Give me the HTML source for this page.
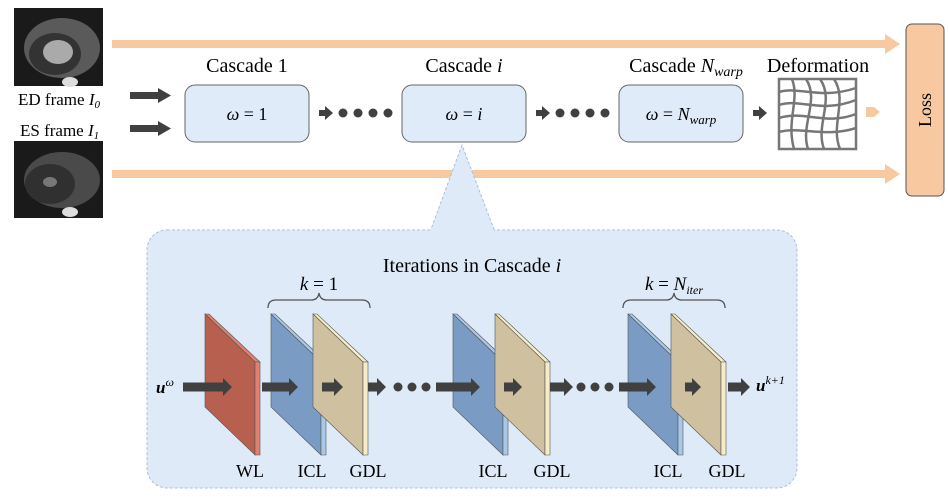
<!DOCTYPE html>
<html><head><meta charset="utf-8"><style>
body{margin:0;background:#fff}
svg{display:block;font-family:"Liberation Serif",serif}
</style></head><body>
<svg width="948" height="497" viewBox="0 0 948 497">
<g>
<rect x="14" y="8" width="89" height="78" fill="#1a1a1a"/>
<ellipse cx="62" cy="48" rx="38" ry="30" fill="#5a5a5a"/>
<ellipse cx="55" cy="54" rx="26" ry="21" fill="#333"/>
<ellipse cx="58" cy="52" rx="15" ry="12" fill="#aaa"/>
<ellipse cx="70" cy="82" rx="8" ry="5" fill="#ddd"/>
</g>
<g>
<rect x="14" y="141" width="89" height="77" fill="#1a1a1a"/>
<ellipse cx="62" cy="180" rx="38" ry="28" fill="#4a4a4a"/>
<ellipse cx="50" cy="184" rx="25" ry="20" fill="#303030"/>
<ellipse cx="50" cy="182" rx="7" ry="5" fill="#777"/>
<ellipse cx="70" cy="212" rx="8" ry="5" fill="#ddd"/>
</g>
<text x="18" y="105" font-size="17">ED frame <tspan font-style="italic">I</tspan><tspan font-style="italic" font-size="11" dy="3">0</tspan></text>
<text x="20" y="136" font-size="17">ES frame <tspan font-style="italic">I</tspan><tspan font-style="italic" font-size="11" dy="3">1</tspan></text>

<g fill="#f8c9a0">
<rect x="112" y="40" width="776" height="8"/><polygon points="885,34 900,44 885,54"/>
<rect x="112" y="170" width="776" height="8"/><polygon points="885,164 900,174 885,184"/>
<polygon points="866,107 874,107 880,112 874,117 866,117"/>
</g>

<g fill="#404040">
<rect x="130" y="92" width="30" height="7"/><polygon points="158,88 171,95.5 158,103"/>
<rect x="130" y="125" width="30" height="7"/><polygon points="158,121 171,128.5 158,136"/>
</g>

<g font-size="20">
<text x="247" y="72" text-anchor="middle">Cascade 1</text>
<rect x="185" y="85" width="124" height="57" rx="10" fill="#dfebf8" stroke="#666" stroke-width="1"/>
<text x="247" y="120" text-anchor="middle" font-size="18"><tspan font-style="italic">ω</tspan> = 1</text>
<text x="464" y="72" text-anchor="middle">Cascade <tspan font-style="italic">i</tspan></text>
<rect x="402" y="85" width="124" height="57" rx="10" fill="#dfebf8" stroke="#666" stroke-width="1"/>
<text x="464" y="120" text-anchor="middle" font-size="18"><tspan font-style="italic">ω</tspan> = <tspan font-style="italic">i</tspan></text>
<text x="686" y="72" text-anchor="middle">Cascade <tspan font-style="italic">N</tspan><tspan font-style="italic" font-size="14" dy="4">warp</tspan></text>
<rect x="619" y="85" width="124" height="57" rx="10" fill="#dfebf8" stroke="#666" stroke-width="1"/>
<text x="681" y="120" text-anchor="middle" font-size="18"><tspan font-style="italic">ω</tspan> = <tspan font-style="italic">N</tspan><tspan font-style="italic" font-size="13" dy="4">warp</tspan></text>
<text x="818" y="72" text-anchor="middle">Deformation</text>
</g>
<g fill="#404040">
<rect x="319" y="110" width="8" height="6"/><polygon points="325,106 333,113 325,120"/>
<circle cx="343" cy="113" r="4.5"/><circle cx="358" cy="113" r="4.5"/><circle cx="373" cy="113" r="4.5"/><circle cx="388" cy="113" r="4.5"/>
<rect x="536" y="110" width="8" height="6"/><polygon points="542,106 550,113 542,120"/>
<circle cx="560" cy="113" r="4.5"/><circle cx="575" cy="113" r="4.5"/><circle cx="590" cy="113" r="4.5"/><circle cx="605" cy="113" r="4.5"/>
<rect x="753" y="110" width="8" height="6"/><polygon points="759,106 767,113 759,120"/>
</g>
<g fill="none" stroke="#777" stroke-width="2.5">
<rect x="779" y="79" width="77" height="70"/>
<path d="M779,92 C800,86 820,100 856,88"/>
<path d="M779,105 C800,98 820,114 856,100"/>
<path d="M779,118 C805,110 825,126 856,114"/>
<path d="M779,132 C800,126 825,138 856,128"/>
<path d="M792,79 C800,100 786,120 794,149"/>
<path d="M806,79 C820,100 800,125 808,149"/>
<path d="M820,79 C835,100 815,125 824,149"/>
<path d="M834,79 C848,100 830,125 840,149"/>
</g>
<rect x="906" y="24" width="38" height="172" rx="6" fill="#f8c9a0" stroke="#555" stroke-width="1"/>
<text transform="translate(931,110) rotate(-90)" text-anchor="middle" font-size="18">Loss</text>

<path d="M462,145 L430,232 L495,232 Z" fill="#deeaf7" stroke="#a9c0d8" stroke-dasharray="3,2"/>
<rect x="147" y="230" width="650" height="258" rx="20" fill="#deeaf7" stroke="#a9c0d8" stroke-dasharray="3,2"/>
<path d="M431,231 L494,231" stroke="#deeaf7" stroke-width="3"/>
<text x="472" y="272" text-anchor="middle" font-size="20">Iterations in Cascade <tspan font-style="italic">i</tspan></text>

<g fill="none" stroke="#555" stroke-width="1.3">
<path d="M268,308 Q268,300 276,300 L311,300 Q318,300 319,293 Q320,300 327,300 L362,300 Q370,300 370,308"/>
<path d="M623,308 Q623,300 631,300 L666,300 Q673,300 674,293 Q675,300 682,300 L717,300 Q725,300 725,308"/>
</g>
<text x="319" y="290" text-anchor="middle" font-size="19"><tspan font-style="italic">k</tspan> = 1</text>
<text x="674" y="290" text-anchor="middle" font-size="19"><tspan font-style="italic">k</tspan> = <tspan font-style="italic">N</tspan><tspan font-style="italic" font-size="12" dy="4">iter</tspan></text>

<g id="slabs"></g>
<g font-size="18" text-anchor="middle">
<text x="250" y="477">WL</text><text x="312" y="477">ICL</text><text x="368" y="477">GDL</text>
<text x="493" y="477">ICL</text><text x="552" y="477">GDL</text>
<text x="668" y="477">ICL</text><text x="727" y="477">GDL</text>
</g>
<text x="156" y="393" font-size="17" font-weight="bold" font-style="italic">u<tspan font-weight="normal" font-size="12" dy="-7">ω</tspan></text>
<text x="756" y="391" font-size="17" font-weight="bold" font-style="italic">u<tspan font-weight="normal" font-size="12" dy="-7">k+1</tspan></text>
</svg>
<script>
const NS='http://www.w3.org/2000/svg';
const g=document.getElementById('slabs');
const slabs=[['wl',205,'#b8604f','#e0806e'],['icl-1',271,'#7a9cc4','#a9c8e8'],['gdl-1',313,'#cfc1a0','#f7ecc4'],
['icl-2',453,'#7a9cc4','#a9c8e8'],['gdl-2',495,'#cfc1a0','#f7ecc4'],['icl-3',628,'#7a9cc4','#a9c8e8'],['gdl-3',671,'#cfc1a0','#f7ecc4']];
function poly(pts,fill){const p=document.createElementNS(NS,'polygon');p.setAttribute('points',pts);p.setAttribute('fill',fill);p.setAttribute('stroke','#555');p.setAttribute('stroke-width','0.6');return p;}
function arrow(x1,x2){const y=387;const p=document.createElementNS(NS,'polygon');
p.setAttribute('points',`${x1},${y-4.5} ${x2-9},${y-4.5} ${x2-9},${y-9} ${x2},${y} ${x2-9},${y+9} ${x2-9},${y+4.5} ${x1},${y+4.5}`);p.setAttribute('fill','#404040');


g.appendChild(p);}
function dots(x,n){for(let i=0;i<n;i++){const c=document.createElementNS(NS,'circle');c.setAttribute('cx',x+i*14);c.setAttribute('cy',387);c.setAttribute('r',4.5);c.setAttribute('fill','#404040');


g.appendChild(c);}}
slabs.forEach((s,i)=>{const x=s[1];const sg=document.createElementNS(NS,'g');


sg.appendChild(poly(`${x},314 ${x+4},314 ${x+55},362 ${x+50},362`,s[3]));
sg.appendChild(poly(`${x},314 ${x+50},362 ${x+50},455 ${x},407`,s[2]));
sg.appendChild(poly(`${x+50},362 ${x+55},362 ${x+55},455 ${x+50},455`,s[3]));
g.appendChild(sg);
});
arrow(183,232);arrow(262,298);arrow(322,343);arrow(368,386);dots(398,3);arrow(436,480);arrow(504,522);arrow(550,573);dots(581,3);arrow(619,656);arrow(685,701);arrow(728,750);
</script>
</body></html>
